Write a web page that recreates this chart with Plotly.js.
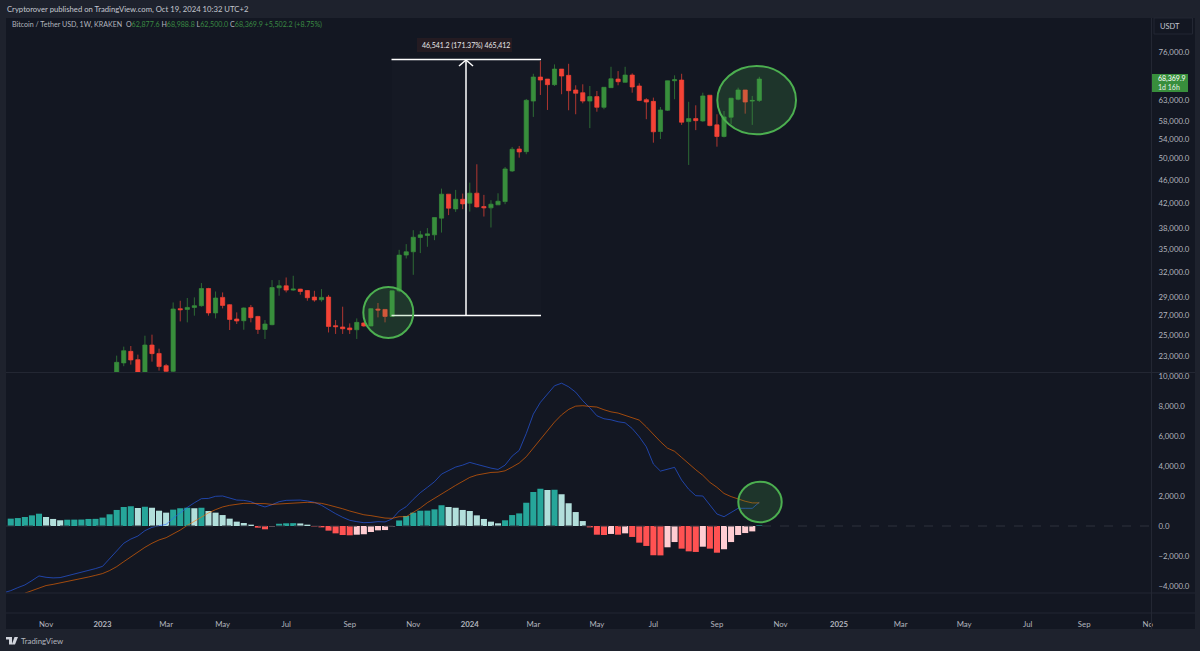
<!DOCTYPE html>
<html><head><meta charset="utf-8">
<script src="https://cdn.plot.ly/plotly-3.0.1.min.js"></script>
<style>html,body{margin:0;padding:0;background:#1e222d}#c{width:1200px;height:651px}</style>
</head><body><div id="c"></div>
<script>
// Weekly OHLC, first candle in the week of 2023-01-16
const firstCandleWeek = '2023-01-16';
const opens = [21620,22430,23470,22720,21600,24060,23280,22190,21700,27750,27670,27890,28080,30040,27290,29010,28190,26650,26470,27890,26920,25580,26060,30120,30360,29850,29970,29800,29050,28740,29050,25960,25830,25730,25550,26240,25930,27710,27670,26920,29770,34250,34700,36700,36990,37090,39600,43510,41060,42650,41990,43680,41440,41230,41720,42260,47660,51960,51410,62710,68920,68380,66880,71110,69380,65500,64810,62710,63820,61200,66100,68380,67500,69460,66540,63050,62640,55640,60490,67920,68110,57850,58540,58000,64170,57120,54570,58860,63170,65500,62700,62877.6];
const highs = [23080,23910,23970,23170,24960,25060,23720,22340,28440,28630,28940,29010,30690,30120,29690,29580,28250,27350,27890,28160,26980,26540,31050,31050,31370,31580,30000,29850,29770,29970,29290,26540,27970,26190,26710,26300,27800,28380,27700,29800,34970,35760,37770,37670,38080,39700,44470,43510,44250,43610,45530,48930,43390,42490,43660,48420,52370,52580,63240,69810,73365,68380,72420,71110,72600,66720,66980,66540,65240,66280,71750,70550,71750,69920,67240,63420,63570,61270,67950,69380,69810,62540,61680,64810,64200,59550,60320,63490,66100,65500,63990,68988.8];
const lows = [21500,22140,22280,21400,21400,22540,21760,21620,21600,26400,26300,27000,27970,27000,26710,27780,25520,26130,25550,26300,25130,24640,26000,29200,29580,29770,29320,28630,28520,28520,25280,25130,25130,25130,24640,25850,25900,26820,26300,26900,29600,33800,31700,34520,35390,36320,37420,40070,40580,41020,40630,41280,39850,38170,41720,41830,47480,50220,50900,58930,64240,60560,66540,64420,60490,59550,62160,56390,60150,60730,66020,66720,67400,64810,62710,58400,53260,54030,60320,63170,57120,48800,55950,57820,56800,52430,54360,57270,62900,59690,57120,62500];
const closes = [22480,23530,22690,21600,24060,23260,22110,21700,27720,27640,27890,28080,30040,27290,28940,28110,26600,26440,27830,26790,25580,26130,30160,30360,29850,29970,29690,28970,28710,29010,25880,25860,25650,25550,26300,25930,27750,27600,26920,29770,34250,34700,36740,37090,37230,39700,43510,41180,42650,41880,43680,41390,41230,41830,42320,48040,51900,51350,62900,68920,68110,66880,71110,69190,65320,64660,62710,63820,61200,66200,68460,67660,69460,66280,62880,62470,55580,60560,67920,68190,57710,58540,58070,63990,56960,54570,58930,63420,65500,62470,62867.7,68369.9];

// MACD panel, weekly from the week of 2022-09-26 (blue), histogram from 2022-10-03
const firstMacdWeek = '2022-09-26';
const macdLine = [-4450,-4310,-4110,-3930,-3640,-3330,-3420,-3460,-3440,-3330,-3200,-3090,-2950,-2840,-2690,-2200,-1640,-1150,-870,-670,-310,-90,20,110,510,890,1240,1550,1820,1840,1980,2000,1860,1730,1710,1620,1420,1270,1420,1620,1710,1730,1730,1670,1580,1380,1090,820,580,380,290,220,240,290,270,470,1000,1290,1780,2220,2580,2950,3460,3690,3930,4060,4240,4110,3970,3860,3770,4060,4660,5040,6170,7460,8240,8790,9350,9520,9280,8920,8350,7880,7350,7150,7080,6950,6880,6500,5950,5280,4130,3660,3770,3910,3060,2450,2020,2000,1400,800,620,890,1180,1180,1180,1580];
const signalLine = [null,null,null,-4480,-4310,-4130,-3970,-3890,-3800,-3710,-3620,-3510,-3400,-3290,-3170,-2970,-2710,-2380,-2040,-1730,-1420,-1150,-930,-780,-530,-270,40,330,620,870,1090,1270,1380,1470,1510,1510,1510,1490,1440,1470,1530,1550,1580,1580,1550,1510,1400,1290,1150,1000,870,750,690,600,530,510,620,620,890,1200,1555,1840,2080,2420,2710,2990,3240,3400,3500,3570,3590,3680,3930,4200,4620,5200,5750,6390,6930,7410,7770,7990,8020,7970,7930,7750,7610,7530,7370,7230,7060,6610,6080,5620,5190,4980,4570,4140,3750,3380,2910,2580,2170,1960,1780,1650,1540,1540];
const histogram = [null,490,530,600,710,820,600,470,380,420,425,430,470,475,560,780,1070,1270,1310,1200,1290,1220,1020,890,1090,1190,1210,1190,1220,1000,890,730,490,290,200,90,-110,-220,-20,150,180,190,170,90,-40,-90,-310,-490,-600,-620,-580,-550,-400,-290,-270,-20,370,670,890,1020,1025,1110,1380,1270,1220,1070,1000,710,470,290,180,380,730,840,1550,2260,2490,2400,2420,2110,1510,930,330,-90,-580,-600,-530,-580,-490,-730,-1110,-1330,-1950,-1960,-1420,-1070,-1510,-1690,-1730,-1380,-1510,-1780,-1550,-1070,-600,-470,-360,40];

const priceTicks = [76000,63000,58000,54000,50000,46000,42000,38000,35000,32000,29000,27000,25000,23000];
const macdTicks = [10000,8000,6000,4000,2000,0,-2000,-4000];
const timeTickDates = ['2022-11-07','2023-01-02','2023-03-06','2023-05-01','2023-07-03','2023-09-04','2023-11-06','2024-01-01','2024-03-04','2024-05-06','2024-07-01','2024-09-02','2024-11-04','2025-01-01','2025-03-03','2025-05-05','2025-07-07','2025-09-01','2025-11-03'];
const timeTickLabels = ['Nov','<b>2023</b>','Mar','May','Jul','Sep','Nov','<b>2024</b>','Mar','May','Jul','Sep','Nov','<b>2025</b>','Mar','May','Jul','Sep','No'];

const weeks = (start, n) => Array.from({length:n}, (_, i) => new Date(Date.parse(start+'T00:00:00Z') + i*7*864e5).toISOString().slice(0,10));
const candleDates = weeks(firstCandleWeek, closes.length);
const macdDates = weeks(firstMacdWeek, macdLine.length);

const FRAME='#1e222d', BG='#131722', LINE='#232733', TXT='#b2b5be';
const W=1200, H=651;
const px = x => x/W, py = y => 1-y/H;
const font = 'Lato, "Open Sans", sans-serif';

const UP='#388e3c', DOWN='#f44336';
const histColors = histogram.map((v,i)=>{
  const p = histogram[i-1];
  if (v==null) return 'rgba(0,0,0,0)';
  if (p==null) return '#26a69a';
  return v>=0 ? (v>=p?'#26a69a':'#b2dfdb') : (v<p?'#ff5252':'#ffcdd2');
});

const traces = [
  {type:'candlestick', x:candleDates, open:opens, high:highs, low:lows, close:closes, xaxis:'x', yaxis:'y', whiskerwidth:0, hoverinfo:'skip',
   increasing:{line:{color:UP,width:0.7}, fillcolor:UP}, decreasing:{line:{color:DOWN,width:0.7}, fillcolor:DOWN}},
  {type:'bar', x:macdDates, y:histogram, xaxis:'x', yaxis:'y2', marker:{color:histColors, line:{width:0}}, hoverinfo:'skip'},
  {type:'scatter', mode:'lines', x:macdDates, y:macdLine, xaxis:'x', yaxis:'y2', line:{color:'#2962ff',width:1}, opacity:0.6, hoverinfo:'skip'},
  {type:'scatter', mode:'lines', x:macdDates, y:signalLine, xaxis:'x', yaxis:'y2', line:{color:'#ff6d00',width:1}, opacity:0.6, hoverinfo:'skip'}
];

const seg = (x0,y0,x1,y1,color,width,dash) => ({type:'line', xref:'paper', yref:'paper', x0:px(x0), x1:px(x1), y0:py(y0), y1:py(y1), line:{color,width,dash:dash||'solid'}, layer:'above'});
const box = (x0,y0,x1,y1,fill,color,layer) => ({type:'rect', xref:'paper', yref:'paper', x0:px(x0), x1:px(x1), y0:py(y0), y1:py(y1), fillcolor:fill, line:{color:color||'rgba(0,0,0,0)',width:color?1:0}, layer:layer||'above'});
const oval = (x0,y0,x1,y1) => ({type:'circle', xref:'paper', yref:'paper', x0:px(x0), x1:px(x1), y0:py(y0), y1:py(y1), fillcolor:'rgba(76,175,80,0.2)', line:{color:'#4caf50',width:2}, layer:'above'});
const poly = (pts,fill) => ({type:'path', xref:'paper', yref:'paper', path:'M'+pts.map(p=>px(p[0])+','+py(p[1])).join('L')+'Z', fillcolor:fill, line:{width:0}, layer:'above'});

const shapes = [
  box(6,18,1195,629,BG,null,'below'),
  seg(6,372.5,1195,372.5,LINE,1),
  seg(6,593,1195,593,LINE,1),
  seg(6,613,1195,613,LINE,1),
  seg(1151.5,18,1151.5,629,LINE,1),
  seg(6,526,1151,526,'#2e323d',1,'dash'),
  box(1154,18,1192.5,34,BG,LINE),
  // measuring tool
  box(391.5,59.5,541,315.5,'rgba(120,123,134,0.025)',null,'below'),
  seg(391.5,59.5,541,59.5,'#ffffff',1.5),
  seg(391.5,315.5,541,315.5,'#ffffff',1.5),
  seg(466,315.5,466,60,'#ffffff',1.5),
  seg(459,66,466,60,'#ffffff',1.5),
  seg(473,66,466,60,'#ffffff',1.5),
  box(417,38,512,52,'#241b22',null,'above'),
  // highlight ellipses
  oval(363.3,287,413.3,338),
  oval(717.3,66,796,134.3),
  oval(738.3,481.7,781.7,522.3),
  // price tag
  box(1152,74,1188,92,UP,null,'above'),
  // TradingView logo
  poly([[6,637],[12,637],[12,644.5],[9,644.5],[9,639.5],[6,639.5]],'#d1d4dc'),
  poly([[14.5,637],[18,637],[15,644.5],[11.8,644.5]],'#d1d4dc')
];

const note = (x,y,text,opts) => Object.assign({xref:'paper', yref:'paper', x:px(x), y:py(y), text, showarrow:false, xanchor:'left', yanchor:'middle', font:{family:font,size:7.5,color:TXT}}, opts||{});
const g = '#3a8a42', w='#b2b5be';
const val = s => '<span style="color:'+g+'">'+s+'</span>';
const annotations = [
  note(5,9,'Cryptorover published on TradingView.com, Oct 19, 2024 10:32 UTC+2',{font:{family:font,size:7.7,color:'#c4c7d0'}}),
  note(9.5,25,'Bitcoin / Tether USD, 1W, KRAKEN  O'+val('62,877.6')+' H'+val('68,988.8')+' L'+val('62,500.0')+' C'+val('68,369.9')+' '+val('+5,502.2 (+8.75%)'),{font:{family:font,size:7.1,color:w}}),
  note(1158,26,'USDT',{font:{family:font,size:7.5,color:'#c4c7d0'}}),
  note(1155.5,79,'68,369.9',{font:{family:font,size:7,color:'#ffffff'}}),
  note(1155.5,87,'1d 16h',{font:{family:font,size:7,color:'#e6f2e7'}}),
  note(465.5,45,'46,541.2 (171.37%) 465,412',{xanchor:'center',font:{family:font,size:7,color:'#e8e8ea'}}),
  note(18.5,641,'TradingView',{font:{family:font,size:7.8,color:'#b2b5be'}})
];

const layout = {
  width:W, height:H, margin:{l:0,r:0,t:0,b:0}, paper_bgcolor:FRAME, plot_bgcolor:BG, showlegend:false, bargap:0.14, boxgap:0.15,
  font:{family:font,size:7.8,color:TXT},
  xaxis:{type:'date', domain:[px(6),px(1151)], anchor:'free', position:py(613), range:['2022-09-28 07:00','2025-11-06 06:00'], rangeslider:{visible:false}, tickmode:'array', tickvals:timeTickDates, ticktext:timeTickLabels, ticks:'outside', ticklen:4, tickcolor:'rgba(0,0,0,0)', showgrid:false, zeroline:false, showline:false, tickfont:{family:font,size:7.8,color:TXT}, fixedrange:true},
  yaxis:{type:'log', domain:[py(372.5),py(18)], anchor:'x', side:'right', position:px(1151), range:[Math.log10(21600),Math.log10(86900)], tickmode:'array', tickvals:priceTicks, tickformat:',.1f', ticks:'outside', ticklen:5, tickcolor:'rgba(0,0,0,0)', showgrid:false, zeroline:false, showline:false, fixedrange:true},
  yaxis2:{domain:[py(593),py(372.5)], anchor:'free', side:'right', position:px(1151), range:[-4467,10233], tickmode:'array', tickvals:macdTicks, tickformat:',.1f', ticks:'outside', ticklen:5, tickcolor:'rgba(0,0,0,0)', showgrid:false, zeroline:false, showline:false, fixedrange:true},
  shapes, annotations
};
Plotly.newPlot('c', traces, layout, {displayModeBar:false, staticPlot:true});
</script></body></html>
